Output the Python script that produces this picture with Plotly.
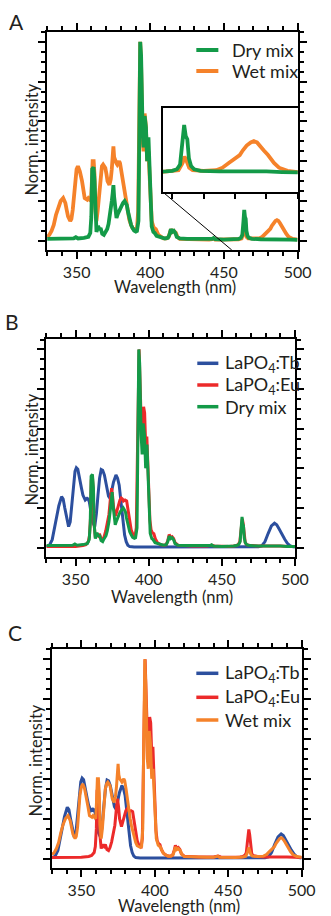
import plotly.graph_objects as go

# ---------------- data ----------------
dry_wl = [330, 335, 340, 345, 348, 349.5, 351, 355, 358, 359.3, 360, 360.6, 361.5, 362.2, 362.7,
          363.5, 364.6, 365.6, 366.3, 367.4, 368.5, 369.5, 370.8, 371.7, 372.8, 373.9, 374.5, 375,
          375.5, 376.1, 377.1, 378, 378.9, 379.6, 380.4, 381.5, 382.6, 383.4, 384.1, 384.8, 385.8,
          387, 388, 389, 390.2, 391, 392.0, 392.6, 393.2, 393.8, 394.3, 394.8, 395.5, 396.2, 397.1,
          397.9, 398.8, 399.4, 399.9, 400.5, 401, 402.1, 403, 404.3, 406, 408, 410, 412, 413, 414,
          415, 416, 417, 418, 420, 425, 430, 435, 440, 442, 443, 444, 450, 455, 458, 460, 461.5,
          462.5, 463.3, 463.8, 464.3, 464.8, 465.3, 466, 467, 469, 475, 480, 485, 490, 495, 500]
dry_int = [0.01, 0.01, 0.01, 0.01, 0.012, 0.018, 0.012, 0.015, 0.02, 0.04, 0.12, 0.36, 0.37, 0.3, 0.12,
           0.045, 0.075, 0.055, 0.065, 0.035, 0.03, 0.045, 0.06, 0.085, 0.13, 0.2, 0.24, 0.28,
           0.22, 0.165, 0.115, 0.135, 0.15, 0.17, 0.18, 0.19, 0.2, 0.19, 0.18, 0.15, 0.115,
           0.08, 0.064, 0.052, 0.047, 0.05, 0.1, 0.5, 1.0, 0.93, 0.7, 0.57, 0.47, 0.627, 0.57,
           0.4, 0.52, 0.4, 0.266, 0.14, 0.072, 0.045, 0.04, 0.025, 0.02, 0.015, 0.012, 0.015, 0.03, 0.058,
           0.045, 0.05, 0.04, 0.02, 0.012, 0.01, 0.01, 0.008, 0.008, 0.01, 0.014, 0.008, 0.006, 0.006, 0.008, 0.01, 0.015,
           0.03, 0.1, 0.155, 0.12, 0.11, 0.05, 0.025, 0.015, 0.01, 0.008, 0.008, 0.01, 0.008, 0.006, 0.005]

wet_wl = [330, 331.5, 333, 334.5, 336, 337.5, 339.2, 340.9, 342.4, 343.3, 344.2, 345.7, 346.5, 347.4,
          348.2, 349, 350, 350.9, 352.2, 353.7, 354.5, 355.5, 357.2, 358, 358.7, 359.8, 360.4, 360.9,
          361.6, 362.2, 362.7, 363.5, 364.3, 365.2, 366.3, 367.2, 368, 369.5, 370.3, 371, 372.3, 373.2,
          373.9, 374.6, 375, 375.5, 376.1, 377, 377.6, 378.9, 379.5, 380.4, 381.2, 381.9, 383.2, 384.1,
          385.8, 387, 388, 390.2, 391, 391.8, 392.4, 393.2, 393.8, 394.4, 394.9, 395.5, 396.2, 397,
          397.9, 398.8, 399.5, 400.1, 401, 402.3, 403.8, 405.5, 407, 409, 411, 412.5, 413.3, 414.1,
          415, 416, 417.4, 418.5, 420, 425, 430, 435, 440, 442, 443, 444, 450, 455, 460, 462, 463.3,
          463.9, 464.6, 465.4, 466.5, 470, 474, 476, 478, 480, 481.5, 482.5, 483.7, 485, 486, 487,
          488, 489.1, 490.5, 492.4, 494, 496.7, 500]
wet_int = [0.02, 0.03, 0.05, 0.08, 0.13, 0.17, 0.2, 0.215, 0.19, 0.155, 0.123, 0.1, 0.11, 0.156,
           0.23, 0.316, 0.36, 0.375, 0.35, 0.3, 0.26, 0.215, 0.207, 0.215, 0.21, 0.2, 0.3, 0.4,
           0.4, 0.33, 0.16, 0.1, 0.15, 0.23, 0.35, 0.375, 0.383, 0.366, 0.335, 0.3, 0.282, 0.31,
           0.36, 0.44, 0.475, 0.42, 0.4, 0.39, 0.383, 0.4, 0.39, 0.35, 0.3, 0.266, 0.2, 0.165,
           0.106, 0.08, 0.064, 0.055, 0.06, 0.15, 0.55, 1.0, 0.88, 0.62, 0.5, 0.45, 0.64, 0.58,
           0.4, 0.45, 0.32, 0.2, 0.1, 0.067, 0.058, 0.03, 0.02, 0.012, 0.012, 0.02, 0.04, 0.058,
           0.045, 0.05, 0.04, 0.02, 0.01, 0.008, 0.008, 0.006, 0.006, 0.008, 0.012, 0.006, 0.005, 0.005, 0.008, 0.012, 0.035,
           0.055, 0.04, 0.02, 0.012, 0.01, 0.012, 0.02, 0.035, 0.05, 0.06, 0.075, 0.09, 0.1, 0.104, 0.1,
           0.09, 0.075, 0.06, 0.035, 0.02, 0.01, 0.006]

tb_wl = [330, 332, 334, 336.5, 338.5, 340.4, 341.5, 342.6, 344, 345.2, 346.3, 347.4, 348.5, 349.6,
         350.5, 351.5, 352.9, 354, 355, 356.6, 357.9, 358.6, 359.4, 360.5, 361.6, 363.1, 364.2, 365.3,
         366.4, 367.5, 368.5, 369.7, 370.5, 371.4, 372.5, 373.6, 374.8, 375.9, 377.6, 378.7, 379.8,
         380.6, 381.3, 382.4, 383.5, 384.6, 385.7, 387, 390, 400, 420, 440, 460, 470, 475, 477.3,
         479.5, 481.7, 483.9, 486, 487.5, 488.9, 490, 491.5, 493, 494.8, 496.5, 498, 500]
tb_int = [0.005, 0.01, 0.04, 0.13, 0.21, 0.257, 0.245, 0.2, 0.14, 0.106, 0.13, 0.2, 0.3, 0.385,
          0.403, 0.395, 0.35, 0.3, 0.265, 0.24, 0.248, 0.245, 0.23, 0.18, 0.13, 0.106, 0.17, 0.265,
          0.35, 0.394, 0.39, 0.366, 0.34, 0.3, 0.26, 0.248, 0.29, 0.33, 0.366, 0.35, 0.315,
          0.26, 0.2, 0.13, 0.064, 0.03, 0.012, 0.005, 0.003, 0.003, 0.003, 0.002, 0.002, 0.003, 0.004, 0.008,
          0.03, 0.072, 0.109, 0.123, 0.115, 0.097, 0.08, 0.064, 0.042, 0.022, 0.01, 0.005, 0.003]

eu_wl = [330, 340, 350, 355, 357, 358.7, 359.5, 360.2, 360.7, 361.5, 362.1, 362.6, 363.5, 364.5,
         365.5, 366.3, 367.4, 368.5, 369.5, 370.6, 371.7, 372.8, 373.7, 374.6, 375.3, 376, 377.3,
         378.3, 379.4, 380.3, 381.2, 382, 382.7, 383.8, 384.9, 386, 387, 388, 389.2, 390.7, 391.5,
         392.2, 392.9, 393.4, 394, 394.6, 395.2, 395.8, 396.5, 397.2, 397.9, 398.7, 399.4, 400.1,
         400.8, 401.6, 402.5, 403.5, 404.5, 406, 408, 410, 412, 413, 414, 415, 416, 417, 418, 420,
         425, 430, 440, 443, 445, 450, 455, 458, 460, 461.5, 462.3, 463, 463.5, 464, 464.6, 465.3,
         466, 466.8, 468, 470, 475, 480, 486, 490, 495, 500]
eu_int = [0.005, 0.005, 0.006, 0.01, 0.015, 0.03, 0.06, 0.15, 0.34, 0.36, 0.28, 0.12, 0.05, 0.07,
          0.06, 0.07, 0.045, 0.04, 0.055, 0.084, 0.12, 0.167, 0.24, 0.3, 0.26, 0.2, 0.16,
          0.19, 0.218, 0.24, 0.25, 0.245, 0.235, 0.24, 0.235, 0.18, 0.134, 0.09, 0.067, 0.06, 0.1,
          0.45, 0.95, 1.0, 0.85, 0.6, 0.55, 0.62, 0.71, 0.68, 0.52, 0.56, 0.42, 0.28,
          0.14, 0.09, 0.075, 0.07, 0.045, 0.025, 0.015, 0.012, 0.015, 0.035, 0.066, 0.05, 0.055, 0.046, 0.025, 0.012,
          0.01, 0.008, 0.008, 0.012, 0.008, 0.006, 0.006, 0.008, 0.01, 0.018, 0.03, 0.08, 0.13, 0.146, 0.12, 0.05,
          0.025, 0.015, 0.012, 0.01, 0.008, 0.008, 0.01, 0.008, 0.006, 0.005]

x_range = [330, 500]
inset_x_range = [457, 500]
panel_letters = ["A", "B", "C"]
x_title = "Wavelength (nm)"
y_title = "Norm. intensity"

GREEN = "#139a48"
ORANGE = "#f5822a"
BLUE = "#2c4f9e"
RED = "#ec2a2a"

FONT = "Lato"
TXT = "#231f20"
W, H = 331, 916

def px(x):
    return x / W

def py(y):
    return 1 - y / H

fig = go.Figure()

def add(wl, val, color, width, axis, name):
    fig.add_trace(go.Scatter(x=wl, y=val, mode="lines", name=name,
                             line=dict(color=color, width=width),
                             xaxis="x" + axis, yaxis="y" + axis, showlegend=False,
                             hoverinfo="skip"))

# Panel A
add(wet_wl, wet_int, ORANGE, 3.8, "", "Wet mix")
add(dry_wl, dry_int, GREEN, 3.8, "", "Dry mix")
# Panel B
add(tb_wl, tb_int, BLUE, 3, "2", "LaPO4:Tb")
add(eu_wl, eu_int, RED, 3, "2", "LaPO4:Eu")
add(dry_wl, dry_int, GREEN, 3, "2", "Dry mix")
# Panel C
add(tb_wl, tb_int, BLUE, 3, "3", "LaPO4:Tb")
add(eu_wl, eu_int, RED, 3, "3", "LaPO4:Eu")
add(wet_wl, wet_int, ORANGE, 3, "3", "Wet mix")
# Inset of panel A
add(wet_wl, wet_int, ORANGE, 3.8, "4", "Wet mix")
add(dry_wl, dry_int, GREEN, 3.8, "4", "Dry mix")

# panel geometry (pixels): x0, x1, ytop, ybottom, x-title (x, y), y-title (x, y)
panels = [
    (49.2, 310.7, 31.7, 250.0, (183, 287), (33, 140)),
    (48.4, 308.0, 339.3, 556.7, (180, 597), (33, 450)),
    (54.3, 315.0, 649.0, 867.7, (186.5, 905.5), (38, 760)),
]
yr = [-0.046, 1.051]

tickfont = dict(family=FONT, size=16, color=TXT)
titlefont = dict(family=FONT, size=16.5, color=TXT)
layout = dict(width=W, height=H, margin=dict(l=0, r=0, t=0, b=0),
              paper_bgcolor="white", plot_bgcolor="white", showlegend=False)

for i, (x0, x1, yt, yb, xt, ytl) in enumerate(panels):
    sx = "" if i == 0 else str(i + 1)
    xa = dict(domain=[px(x0), px(x1)], range=x_range, anchor="y" + sx,
              showline=True, linecolor="black", linewidth=2, mirror="allticks",
              ticks="outside", ticklen=7, tickwidth=1.5, tickcolor="black",
              tick0=350, dtick=50, tickfont=tickfont, ticklabelstandoff=0,
              showgrid=False, zeroline=False,
              minor=dict(dtick=10, tick0=330, ticks="outside", ticklen=4, tickwidth=1.5, tickcolor="black", showgrid=False))
    ya = dict(domain=[py(yb), py(yt)], range=yr, anchor="x" + sx,
              showline=True, linecolor="black", linewidth=2, mirror="allticks",
              ticks="outside", ticklen=7, tickwidth=1.5, tickcolor="black",
              tick0=0, dtick=0.2, showticklabels=False, showgrid=False, zeroline=False,
              minor=dict(dtick=0.05, tick0=0, ticks="outside", ticklen=4, tickwidth=1.5, tickcolor="black", showgrid=False))
    layout["xaxis" + sx] = xa
    layout["yaxis" + sx] = ya

# inset axes
layout["xaxis4"] = dict(domain=[px(170), px(311)], range=inset_x_range, anchor="y4",
                        showline=True, linecolor="black", linewidth=2, mirror=True,
                        ticks="outside", ticklen=5, tickwidth=1.5, tickcolor="black",
                        tick0=460, dtick=10, showticklabels=False, showgrid=False, zeroline=False)
layout["yaxis4"] = dict(domain=[py(192), py(108)], range=[-0.057, 0.209], anchor="x4",
                        showline=True, linecolor="black", linewidth=2, mirror=True,
                        ticks="", showticklabels=False, showgrid=False, zeroline=False)

fig.update_layout(**layout)

# axis titles
for (x0, x1, yt, yb, xt, ytl) in panels:
    fig.add_annotation(xref="paper", yref="paper", x=px(xt[0]), y=py(xt[1]), text=x_title, showarrow=False,
                       xanchor="center", yanchor="middle", font=titlefont)
    fig.add_annotation(xref="paper", yref="paper", x=px(ytl[0]), y=py(ytl[1]), text=y_title, showarrow=False,
                       xanchor="center", yanchor="middle", textangle=-90, font=titlefont)

# connector line from inset to main axis
fig.add_shape(type="line", xref="paper", yref="paper", x0=px(170), y0=py(192), x1=px(242), y1=py(250),
              line=dict(color="black", width=1))

# manual legends
legends = [
    (205, 228, 240, [(50, GREEN, "Dry mix"), (71, ORANGE, "Wet mix")], 4),
    (206, 228, 233, [(363.3, BLUE, "LaPO<sub>4</sub>:Tb"), (385, RED, "LaPO<sub>4</sub>:Eu"), (406.7, GREEN, "Dry mix")], 3.5),
    (205, 228, 233, [(673.3, BLUE, "LaPO<sub>4</sub>:Tb"), (697.3, RED, "LaPO<sub>4</sub>:Eu"), (720, ORANGE, "Wet mix")], 3.5),
]
legfont = dict(family=FONT, size=18, color=TXT)
for lx0, lx1, tx, items, lw in legends:
    for yy, col, txt in items:
        fig.add_shape(type="line", xref="paper", yref="paper", x0=px(lx0), x1=px(lx1), y0=py(yy), y1=py(yy),
                      line=dict(color=col, width=lw))
        fig.add_annotation(xref="paper", yref="paper", x=px(tx), y=py(yy), text=txt, showarrow=False,
                           xanchor="left", yanchor="middle", font=legfont)

# panel letters
for (lx, ly), letter in zip([(17, 21), (13, 321.5), (16, 632)], panel_letters):
    fig.add_annotation(xref="paper", yref="paper", x=px(lx), y=py(ly), text=letter, showarrow=False,
                       xanchor="center", yanchor="middle", font=dict(family=FONT, size=21, color=TXT))

fig.write_html("out.html", config={"displayModeBar": False},
               post_script="document.body.style.margin='0';document.body.style.overflow='hidden';")
